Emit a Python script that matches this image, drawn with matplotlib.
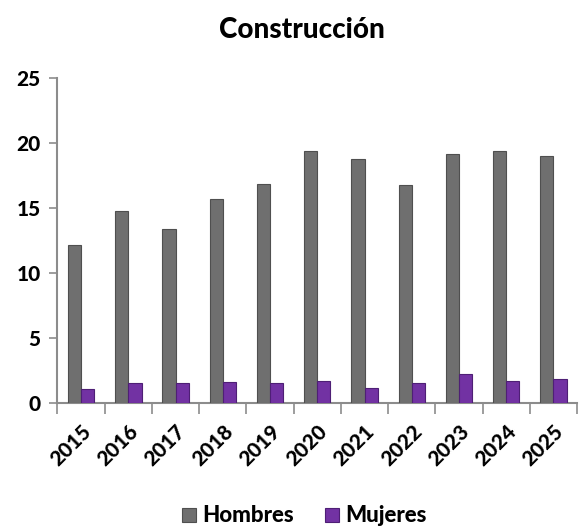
import matplotlib
matplotlib.use('Agg')
import matplotlib.pyplot as plt
import numpy as np

plt.rcParams['font.family'] = ['Lato', 'DejaVu Sans']

# data
years = ['2015', '2016', '2017', '2018', '2019', '2020', '2021', '2022', '2023', '2024', '2025']
hombres = [12.2, 14.8, 13.4, 15.7, 16.9, 19.4, 18.8, 16.8, 19.2, 19.4, 19.0]
mujeres = [1.1, 1.55, 1.55, 1.65, 1.55, 1.75, 1.2, 1.55, 2.25, 1.75, 1.85]

GREY, GREY_EDGE = '#6f6f6f', '#4f4f4f'
PURPLE, PURPLE_EDGE = '#7232a3', '#4e1f75'
AXIS = '#8c8c8c'
WEIGHT = 'black'

fig = plt.figure(figsize=(5.8, 5.28), dpi=100)
ax = fig.add_axes([0.099, 0.236, 0.896, 0.616])

x = np.arange(len(years))
w = 0.28
ax.bar(x - w / 2, hombres, w, color=GREY, edgecolor=GREY_EDGE, linewidth=0.8,
       label='Hombres', zorder=3)
ax.bar(x + w / 2, mujeres, w, color=PURPLE, edgecolor=PURPLE_EDGE, linewidth=0.8,
       label='Mujeres', zorder=3)

ax.set_xlim(-0.5, len(years) - 0.5)
ax.set_ylim(0, 25)
ax.set_yticks(range(0, 26, 5))
ax.tick_params(axis='y', labelsize=15, length=6, width=1.2, color=AXIS, pad=6)
for lab in ax.get_yticklabels():
    lab.set_fontweight(WEIGHT)

# category boundaries as major ticks, labels on minor ticks
ax.set_xticks(np.arange(-0.5, len(years), 1.0))
ax.set_xticklabels([])
ax.set_xticks(x, minor=True)
ax.set_xticklabels(years, minor=True, rotation=45, ha='right', rotation_mode='anchor',
                   fontsize=15, fontweight=WEIGHT)
ax.tick_params(axis='x', which='major', length=8, width=1.2, color=AXIS)
ax.tick_params(axis='x', which='minor', length=0, pad=13)

for side in ['top', 'right']:
    ax.spines[side].set_visible(False)
for side in ['left', 'bottom']:
    ax.spines[side].set_color(AXIS)
    ax.spines[side].set_linewidth(1.5)

fig.suptitle('Construcción', x=0.52, y=0.968, fontsize=20, fontweight=WEIGHT)

leg = fig.legend(loc='lower center', bbox_to_anchor=(0.525, -0.035), ncol=2, frameon=False,
                 prop={'weight': WEIGHT, 'size': 16}, handlelength=0.6, handleheight=0.6,
                 handletextpad=0.3, columnspacing=1.4)

fig.savefig('out.png', dpi=100)
